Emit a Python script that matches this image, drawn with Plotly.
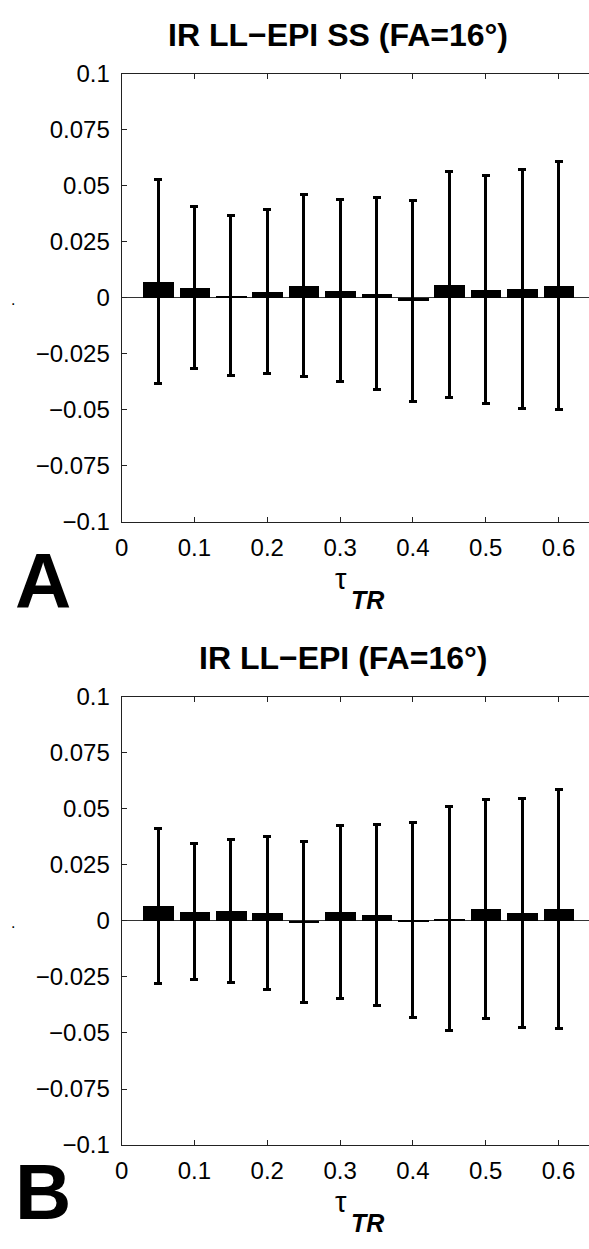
import plotly.graph_objects as go

# ---- data ----
tau_tr = [0.05, 0.10, 0.15, 0.20, 0.25, 0.30, 0.35, 0.40, 0.45, 0.50, 0.55, 0.60]

mean_A = [0.0072, 0.0046, 0.0009, 0.0027, 0.0054, 0.0033, 0.0019, -0.0015, 0.0060, 0.0036, 0.0040, 0.0056]
err_A = [0.0454, 0.0361, 0.0358, 0.0367, 0.0407, 0.0407, 0.0429, 0.0447, 0.0505, 0.0508, 0.0534, 0.0553]

mean_B = [0.0065, 0.0042, 0.0044, 0.0036, -0.0005, 0.0040, 0.0027, 0.0004, 0.0011, 0.0053, 0.0034, 0.0052]
err_B = [0.0346, 0.0302, 0.0320, 0.0343, 0.0358, 0.0384, 0.0405, 0.0436, 0.0502, 0.0489, 0.0511, 0.0533]

title_A = "IR LL\u2212EPI SS (FA=16\u00b0)"
title_B = "IR LL\u2212EPI (FA=16\u00b0)"

y_tickvals = [0.1, 0.075, 0.05, 0.025, 0, -0.025, -0.05, -0.075, -0.1]
y_ticktext = ["0.1", "0.075", "0.05", "0.025", "0", "\u22120.025", "\u22120.05", "\u22120.075", "\u22120.1"]
x_tickvals = [0, 0.1, 0.2, 0.3, 0.4, 0.5, 0.6]
x_ticktext = ["0", "0.1", "0.2", "0.3", "0.4", "0.5", "0.6"]

# ---- layout geometry (pixels) ----
W, H = 589, 1249
FONT = "Liberation Sans, Arial, Helvetica, sans-serif"


def px(x):
    return x / W


def py(y):
    return 1 - y / H


x0_px = 116
px_per_unit = 737
x_max = (W - x0_px) / px_per_unit

panels = [
    dict(mean=mean_A, err=err_A, title=title_A, letter="A", top=61, bottom=519, letter_y=580, title_x=335),
    dict(mean=mean_B, err=err_B, title=title_B, letter="B", top=698, bottom=1156, letter_y=1204, title_x=340),
]

fig = go.Figure()
annotations = []
layout_axes = {}

for i, p in enumerate(panels):
    n = "" if i == 0 else str(i + 1)
    fig.add_trace(go.Bar(
        x=tau_tr, y=p["mean"], width=0.042,
        marker=dict(color="black", line=dict(width=0)),
        error_y=dict(type="data", array=p["err"], visible=True,
                     color="black", thickness=3, width=4),
        xaxis="x" + n, yaxis="y" + n, showlegend=False,
    ))
    layout_axes["xaxis" + n] = dict(
        domain=[px(x0_px), 1], range=[0, x_max], anchor="y" + n,
        tickvals=x_tickvals, ticktext=x_ticktext,
        ticks="inside", ticklen=5, tickwidth=1, tickcolor="#222",
        showline=True, linecolor="#222", linewidth=1, mirror="ticks",
        showgrid=False, zeroline=False,
        tickfont=dict(family=FONT, size=24, color="black"),
        ticklabelstandoff=4,
    )
    layout_axes["yaxis" + n] = dict(
        domain=[py(p["bottom"]), py(p["top"])], range=[-0.1, 0.1], anchor="x" + n,
        tickvals=y_tickvals, ticktext=y_ticktext,
        ticks="inside", ticklen=5, tickwidth=1, tickcolor="#222",
        showline=True, linecolor="#222", linewidth=1, mirror=False,
        showgrid=False, zeroline=True, zerolinecolor="#333", zerolinewidth=1,
        tickfont=dict(family=FONT, size=24, color="black"),
        ticklabelstandoff=6,
    )
    # title
    annotations.append(dict(
        text="<b>" + p["title"] + "</b>", xref="paper", yref="paper",
        x=px(p["title_x"]), y=py(p["top"] - 40), xanchor="center", yanchor="middle",
        showarrow=False, font=dict(family=FONT, size=32, color="black"),
    ))
    # x-axis label tau_TR
    annotations.append(dict(
        text="\u03c4", xref="paper", yref="paper",
        x=px(338), y=py(p["bottom"] + 58), xanchor="center", yanchor="middle",
        showarrow=False, font=dict(family=FONT, size=29, color="black"),
    ))
    annotations.append(dict(
        text="<b><i>TR</i></b>", xref="paper", yref="paper",
        x=px(365), y=py(p["bottom"] + 80), xanchor="center", yanchor="middle",
        showarrow=False, font=dict(family=FONT, size=25, color="black"),
    ))
    # panel letter
    annotations.append(dict(
        text="<b>" + p["letter"] + "</b>", xref="paper", yref="paper",
        x=px(36), y=py(p["letter_y"]), xanchor="center", yanchor="middle",
        showarrow=False, font=dict(family=FONT, size=78, color="black"),
    ))
    # tiny y-label dot
    annotations.append(dict(
        text=".", xref="paper", yref="paper",
        x=px(6), y=py((p["top"] + p["bottom"]) / 2 + 2), xanchor="center", yanchor="middle",
        showarrow=False, font=dict(family=FONT, size=16, color="black"),
    ))

fig.update_layout(
    width=W, height=H,
    margin=dict(l=0, r=0, t=0, b=0),
    paper_bgcolor="white", plot_bgcolor="white",
    annotations=annotations,
    bargap=0,
    **layout_axes,
)

fig.write_html(
    "out.html",
    config={"displayModeBar": False},
    post_script="document.body.style.margin='0';document.body.style.overflow='hidden';",
)
